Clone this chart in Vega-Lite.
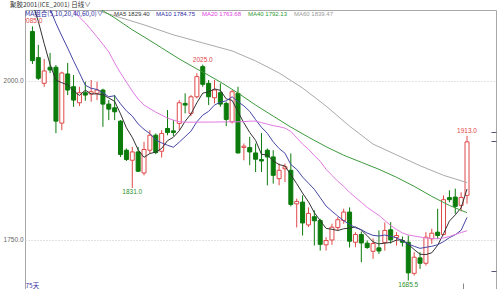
{
"$schema":"https://vega.github.io/schema/vega-lite/v6.json",
"width":471,"height":280,
"autosize":{"type":"none"},
"padding":{"left":25,"top":10,"right":4,"bottom":0},
"background":"white",
"config":{"view":{"stroke":"#a8a8a8"},"font":"Liberation Sans"},
"title":{"text":"聚胶2001(ICE_2001)  日线∨","anchor":"start","frame":"group","orient":"top","offset":2,"dx":-15,"font":"Noto Sans CJK SC","fontSize":6.5,"fontWeight":"normal","color":"#333333"},
"datasets":{
"k":[
{"i":1,"o":2077.0,"h":2085.0,"l":2026.0,"c":2031.2,"MA5":2122,"MA10":2168},
{"i":2,"o":2036.0,"h":2056.0,"l":2000.8,"c":2003.5,"MA5":2093,"MA10":2149},
{"i":3,"o":1995.6,"h":2033.9,"l":1990.2,"c":2015.0,"MA5":2058,"MA10":2130},
{"i":4,"o":2020.8,"h":2043.4,"l":2011.8,"c":2016.6,"MA5":2025,"MA10":2112},
{"i":5,"o":2020.8,"h":2024.4,"l":1917.2,"c":1936.1,"MA5":2000.5,"MA10":2090},
{"i":6,"o":1933.0,"h":2013.9,"l":1921.9,"c":2011.8,"MA5":1996.6,"MA10":2070},
{"i":7,"o":2010.3,"h":2027.6,"l":1977.1,"c":1985.0,"MA5":1992.9,"MA10":2051},
{"i":8,"o":1990.2,"h":2008.7,"l":1958.7,"c":1969.2,"MA5":1983.7,"MA10":2031,"MA20":2109.6},
{"i":9,"o":1965.0,"h":1990.2,"l":1959.8,"c":1980.8,"MA5":1976.6,"MA10":2012,"MA20":2099.4,"MA60":2119.1},
{"i":10,"o":1980.8,"h":1998.1,"l":1968.1,"c":1977.1,"MA5":1984.8,"MA10":1992.6,"MA20":2090.7,"MA40":2128.5},
{"i":11,"o":1978.7,"h":2000.8,"l":1966.6,"c":1982.3,"MA5":1978.9,"MA10":1987.7,"MA20":2079.7},
{"i":12,"o":1979.8,"h":1998.1,"l":1969.2,"c":1985.0,"MA5":1978.9,"MA10":1985.9,"MA20":2068.6,"MA60":2110.4},
{"i":13,"o":1985.0,"h":1987.1,"l":1927.1,"c":1962.9,"MA5":1977.6,"MA10":1980.7,"MA20":2056.8,"MA40":2109.6},
{"i":14,"o":1962.9,"h":1969.2,"l":1937.7,"c":1955.0,"MA5":1972.5,"MA10":1974.5,"MA20":2045.0},
{"i":15,"o":1957.1,"h":1977.1,"l":1937.7,"c":1950.8,"MA5":1967.2,"MA10":1976.0,"MA20":2027.6,"MA40":2098.6,"MA60":2101.7},
{"i":16,"o":1936.1,"h":1937.7,"l":1879.8,"c":1883.6,"MA5":1947.5,"MA10":1963.2,"MA20":2011.8},
{"i":17,"o":1890.4,"h":1893.1,"l":1873.5,"c":1875.7,"MA5":1925.6,"MA10":1952.2,"MA20":1997.6},
{"i":18,"o":1874.6,"h":1895.6,"l":1831.0,"c":1887.7,"MA5":1910.6,"MA10":1944.1,"MA20":1983.4,"MA40":2079.7},
{"i":19,"o":1887.7,"h":1895.6,"l":1856.1,"c":1857.3,"MA5":1891.0,"MA10":1931.7,"MA20":1970.8},
{"i":20,"o":1854.6,"h":1903.5,"l":1850.9,"c":1891.5,"MA5":1879.2,"MA10":1923.2,"MA20":1961.4,"MA40":2068.6,"MA60":2087.5},
{"i":21,"o":1890.4,"h":1921.9,"l":1885.6,"c":1914.0,"MA5":1885.2,"MA10":1916.4,"MA20":1955.8},
{"i":22,"o":1914.0,"h":1916.7,"l":1884.1,"c":1886.7,"MA5":1887.4,"MA10":1906.5,"MA20":1950.3},
{"i":23,"o":1888.8,"h":1921.9,"l":1878.9,"c":1916.7,"MA5":1893.2,"MA10":1901.9,"MA20":1945.6,"MA40":2051.3},
{"i":24,"o":1924.6,"h":1953.5,"l":1914.0,"c":1918.3,"MA5":1905.4,"MA10":1898.2,"MA20":1940.9},
{"i":25,"o":1920.8,"h":1937.7,"l":1912.5,"c":1918.3,"MA5":1910.8,"MA10":1895.0,"MA20":1937.7,"MA60":2071.8},
{"i":26,"o":1932.5,"h":1969.2,"l":1921.9,"c":1965.0,"MA5":1921.0,"MA10":1903.1,"MA20":1935.3,"MA40":2033.9},
{"i":27,"o":1964.0,"h":1979.8,"l":1948.3,"c":1961.4,"MA5":1935.9,"MA10":1911.7,"MA20":1934.5},
{"i":28,"o":1948.3,"h":1977.1,"l":1944.0,"c":1974.4,"MA5":1947.5,"MA10":1920.4,"MA20":1934.5},
{"i":29,"o":1974.4,"h":2011.4,"l":1971.9,"c":2006.0,"MA5":1965.0,"MA10":1935.2,"MA20":1934.5,"MA40":2018.1},
{"i":30,"o":2021.8,"h":2025.0,"l":1990.2,"c":1994.0,"MA5":1980.2,"MA10":1945.5,"MA20":1934.6,"MA40":2013.4,"MA60":2059.1},
{"i":31,"o":1995.6,"h":2000.8,"l":1961.4,"c":1974.4,"MA5":1982.0,"MA10":1951.5,"MA20":1934.6},
{"i":32,"o":1972.9,"h":2000.8,"l":1964.0,"c":1985.0,"MA5":1986.8,"MA10":1961.4,"MA20":1934.7},
{"i":33,"o":1980.8,"h":1995.6,"l":1958.7,"c":1962.9,"MA5":1984.5,"MA10":1966.0,"MA20":1934.8,"MA40":1997.6},
{"i":34,"o":1964.0,"h":1966.6,"l":1928.2,"c":1938.8,"MA5":1971.0,"MA10":1968.0,"MA20":1934.9},
{"i":35,"o":1935.0,"h":1985.0,"l":1932.5,"c":1982.3,"MA5":1968.7,"MA10":1974.4,"MA20":1935.0,"MA60":2046.5},
{"i":36,"o":1979.8,"h":1990.2,"l":1885.2,"c":1886.1,"MA5":1951.0,"MA10":1966.5,"MA20":1935.1,"MA40":1980.3},
{"i":37,"o":1894.6,"h":1900.9,"l":1874.6,"c":1896.7,"MA5":1933.4,"MA10":1960.1,"MA20":1935.3},
{"i":38,"o":1894.6,"h":1911.4,"l":1866.7,"c":1887.7,"MA5":1918.3,"MA10":1951.4,"MA20":1936.1},
{"i":39,"o":1886.1,"h":1900.9,"l":1856.1,"c":1876.2,"MA5":1905.8,"MA10":1938.4,"MA20":1936.1,"MA40":1961.4,"MA60":2030.8},
{"i":40,"o":1875.7,"h":1917.2,"l":1856.1,"c":1873.5,"MA5":1884.0,"MA10":1926.4,"MA20":1933.8},
{"i":41,"o":1890.4,"h":1893.1,"l":1835.2,"c":1879.8,"MA5":1882.8,"MA10":1916.9,"MA20":1931.4},
{"i":42,"o":1879.8,"h":1890.4,"l":1837.9,"c":1850.9,"MA5":1873.6,"MA10":1903.5,"MA20":1929.0,"MA40":1944.0},
{"i":43,"o":1845.7,"h":1869.4,"l":1835.2,"c":1858.8,"MA5":1867.8,"MA10":1893.1,"MA20":1927.4,"MA60":2011.8},
{"i":44,"o":1861.2,"h":1869.4,"l":1840.4,"c":1864.4,"MA5":1865.5,"MA10":1885.6,"MA20":1925.1},
{"i":45,"o":1858.8,"h":1885.2,"l":1802.1,"c":1805.2,"MA5":1851.8,"MA10":1867.9,"MA20":1920.0,"MA40":1926.7},
{"i":46,"o":1806.0,"h":1814.2,"l":1768.9,"c":1809.9,"MA5":1837.8,"MA10":1860.3,"MA20":1910.0},
{"i":47,"o":1808.8,"h":1819.4,"l":1756.3,"c":1776.0,"MA5":1822.9,"MA10":1848.2,"MA20":1900.0,"MA60":1988.2},
{"i":48,"o":1772.9,"h":1800.5,"l":1769.7,"c":1791.0,"MA5":1809.3,"MA10":1838.6,"MA20":1892.0,"MA40":1910.9},
{"i":49,"o":1785.8,"h":1795.7,"l":1740.5,"c":1779.5,"MA5":1792.3,"MA10":1828.9,"MA20":1882.0},
{"i":50,"o":1780.0,"h":1782.6,"l":1732.6,"c":1742.4,"MA5":1779.8,"MA10":1815.8,"MA20":1873.0},
{"i":51,"o":1741.6,"h":1753.6,"l":1732.6,"c":1748.4,"MA5":1767.5,"MA10":1802.6,"MA20":1860.4,"MA40":1895.9,"MA60":1959.8},
{"i":52,"o":1749.2,"h":1774.8,"l":1741.6,"c":1769.4,"MA5":1766.1,"MA10":1794.5,"MA20":1850.9},
{"i":53,"o":1768.9,"h":1785.2,"l":1764.2,"c":1781.1,"MA5":1764.2,"MA10":1786.7,"MA20":1841.5},
{"i":54,"o":1780.0,"h":1798.4,"l":1774.8,"c":1793.1,"MA5":1766.9,"MA10":1779.6,"MA20":1833.6,"MA40":1882.5},
{"i":55,"o":1793.1,"h":1800.5,"l":1737.4,"c":1747.3,"MA5":1767.9,"MA10":1773.8,"MA20":1824.1,"MA60":1928.2},
{"i":56,"o":1745.7,"h":1761.5,"l":1737.9,"c":1757.9,"MA5":1769.8,"MA10":1768.6,"MA20":1816.2},
{"i":57,"o":1757.9,"h":1762.6,"l":1714.2,"c":1744.5,"MA5":1764.8,"MA10":1765.5,"MA20":1808.4,"MA40":1871.4},
{"i":58,"o":1744.2,"h":1748.4,"l":1735.3,"c":1737.4,"MA5":1756.0,"MA10":1760.1,"MA20":1800.5},
{"i":59,"o":1731.5,"h":1751.6,"l":1719.6,"c":1743.7,"MA5":1746.2,"MA10":1756.5,"MA20":1794.2,"MA60":1900.0},
{"i":60,"o":1736.9,"h":1764.2,"l":1727.4,"c":1731.9,"MA5":1743.1,"MA10":1755.5,"MA20":1787.9,"MA40":1860.4},
{"i":61,"o":1745.3,"h":1776.8,"l":1732.6,"c":1764.2,"MA5":1744.3,"MA10":1757.0,"MA20":1780.0},
{"i":62,"o":1765.3,"h":1777.3,"l":1743.7,"c":1749.5,"MA5":1745.3,"MA10":1755.1,"MA20":1772.1},
{"i":63,"o":1753.2,"h":1761.5,"l":1740.5,"c":1756.3,"MA5":1749.1,"MA10":1752.6,"MA20":1765.8,"MA40":1847.8,"MA60":1883.0},
{"i":64,"o":1748.4,"h":1754.7,"l":1739.0,"c":1745.7,"MA5":1749.5,"MA10":1747.8,"MA20":1760.3},
{"i":65,"o":1745.7,"h":1756.3,"l":1685.5,"c":1697.5,"MA5":1742.6,"MA10":1742.9,"MA20":1757.1},
{"i":66,"o":1696.8,"h":1730.0,"l":1693.2,"c":1722.1,"MA5":1734.2,"MA10":1739.3,"MA20":1755.5,"MA40":1833.6},
{"i":67,"o":1721.1,"h":1730.0,"l":1703.8,"c":1712.6,"MA5":1726.8,"MA10":1736.1,"MA20":1753.9,"MA60":1866.0},
{"i":68,"o":1712.6,"h":1761.5,"l":1709.0,"c":1753.6,"MA5":1726.3,"MA10":1737.7,"MA20":1752.4},
{"i":69,"o":1751.1,"h":1766.9,"l":1743.2,"c":1759.9,"MA5":1729.1,"MA10":1739.3,"MA20":1751.6,"MA40":1817.8},
{"i":70,"o":1761.5,"h":1798.4,"l":1751.1,"c":1756.3,"MA5":1740.9,"MA10":1741.8,"MA20":1751.1},
{"i":71,"o":1757.9,"h":1819.4,"l":1756.3,"c":1812.6,"MA5":1759.0,"MA10":1746.6,"MA20":1752.4,"MA60":1850.9},
{"i":72,"o":1815.8,"h":1827.3,"l":1808.4,"c":1812.6,"MA5":1779.0,"MA10":1752.9,"MA20":1754.7,"MA40":1803.6},
{"i":73,"o":1816.7,"h":1830.0,"l":1790.5,"c":1802.1,"MA5":1788.7,"MA10":1757.5,"MA20":1757.9},
{"i":74,"o":1803.6,"h":1824.1,"l":1794.2,"c":1816.2,"MA5":1800.0,"MA10":1764.5,"MA20":1761.0},
{"i":75,"o":1819.4,"h":1913.0,"l":1806.3,"c":1903.5,"MA5":1829.4,"MA10":1784.75,"MA20":1763.68,"MA40":1792.13,"MA60":1839.47}
],
"marks":[
{"i":1,"p":2085.0,"t":"2085.0","k":"hi"},
{"i":30,"p":2025.0,"t":"2025.0","k":"hi"},
{"i":75,"p":1913.0,"t":"1913.0","k":"hi"},
{"i":18,"p":1831.0,"t":"1831.0","k":"lo"},
{"i":65,"p":1685.5,"t":"1685.5","k":"lo"}
]
},
"resolve":{"axis":{"y":"independent"}},
"layer":[
{"data":{"name":"k"},
"mark":{"type":"rule","strokeWidth":1},
"encoding":{
"x":{"field":"i","type":"quantitative","scale":{"domain":[0.583333,79.083333],"nice":false,"zero":false},
"axis":{"domain":false,"labels":false,"grid":false,"values":[74.33],"tickSize":-7,"tickColor":"#888888","title":"75天","titleX":0,"titleY":-2,"titleAnchor":"start","titleAlign":"left","titleBaseline":"bottom","titleFont":"Noto Sans CJK SC","titleFontSize":6.5,"titleFontWeight":"normal","titleColor":"#2d2d9e","titlePadding":0}},
"y":{"field":"l","type":"quantitative","scale":{"domain":[1670.6,2110.85],"nice":false,"zero":false},
"axis":{"orient":"left","values":[1750,2000],"format":".1f","ticks":false,"domain":false,"labelPadding":2,"labelFontSize":6.5,"labelColor":"#666666","labelFont":"Liberation Sans","grid":true,"gridColor":"#c4c4c4","gridDash":[1,2],"title":null}},
"y2":{"field":"h"},
"color":{"condition":{"test":"datum.c >= datum.o","value":"#e04848"},"value":"#0b7b0b"}
}},
{"data":{"name":"k"},
"mark":{"type":"bar","width":4,"strokeWidth":1},
"encoding":{
"x":{"field":"i","type":"quantitative"},
"y":{"field":"o","type":"quantitative","axis":null},
"y2":{"field":"c"},
"fill":{"condition":{"test":"datum.c >= datum.o","value":"#ffffff"},"value":"#0b7b0b"},
"stroke":{"condition":{"test":"datum.c >= datum.o","value":"#e04848"},"value":"#0b7b0b"}
}},
{"data":{"name":"k"},
"transform":[{"fold":["MA5","MA10","MA20","MA40","MA60"]},{"filter":"isValid(datum.value)"}],
"mark":{"type":"line","strokeWidth":1,"clip":true},
"encoding":{
"x":{"field":"i","type":"quantitative"},
"y":{"field":"value","type":"quantitative","axis":{"orient":"right","values":[1701.1,1904.6,1918.8],"labels":false,"domain":false,"grid":false,"tickSize":-5,"tickColor":"#555577","title":null}},
"color":{"field":"key","type":"nominal","scale":{"domain":["MA5","MA10","MA20","MA40","MA60"],"range":["#333333","#4646a6","#e27ae2","#3d9a3d","#aaaaaa"]},
"legend":{"orient":"none","legendX":0,"legendY":1,"direction":"horizontal","title":"MA组合(5,10,20,40,60,0)∨","titleOrient":"left","titleFont":"Noto Sans CJK SC","titleFontSize":6.5,"titleFontWeight":"normal","titleColor":"#2d2d9e","titlePadding":4,"labelFont":"Liberation Sans","labelFontSize":6,
"labelExpr":"datum.label + ' ' + (datum.label == 'MA5' ? '1829.40' : datum.label == 'MA10' ? '1784.75' : datum.label == 'MA20' ? '1763.68' : datum.label == 'MA40' ? '1792.13' : '1839.47')",
"labelColor":{"expr":"datum.value == 'MA5' ? '#333333' : datum.value == 'MA10' ? '#2d2da0' : datum.value == 'MA20' ? '#e040e0' : datum.value == 'MA40' ? '#2f9a2f' : '#999999'"},
"symbolSize":1,"symbolOpacity":0,"symbolStrokeWidth":0,"labelOffset":0,"columnPadding":0,"padding":0}}
}},
{"data":{"name":"marks"},
"transform":[{"filter":"datum.k == 'hi'"}],
"mark":{"type":"text","baseline":"alphabetic","dy":-3,"fontSize":6.5,"font":"Liberation Sans","color":"#e04848","clip":true},
"encoding":{"x":{"field":"i","type":"quantitative"},"y":{"field":"p","type":"quantitative","axis":null},"text":{"field":"t"}}},
{"data":{"name":"marks"},
"transform":[{"filter":"datum.k == 'lo'"}],
"mark":{"type":"text","baseline":"top","dy":1,"fontSize":6.5,"font":"Liberation Sans","color":"#2f8f2f","clip":true},
"encoding":{"x":{"field":"i","type":"quantitative"},"y":{"field":"p","type":"quantitative","axis":null},"text":{"field":"t"}}}
]
}
